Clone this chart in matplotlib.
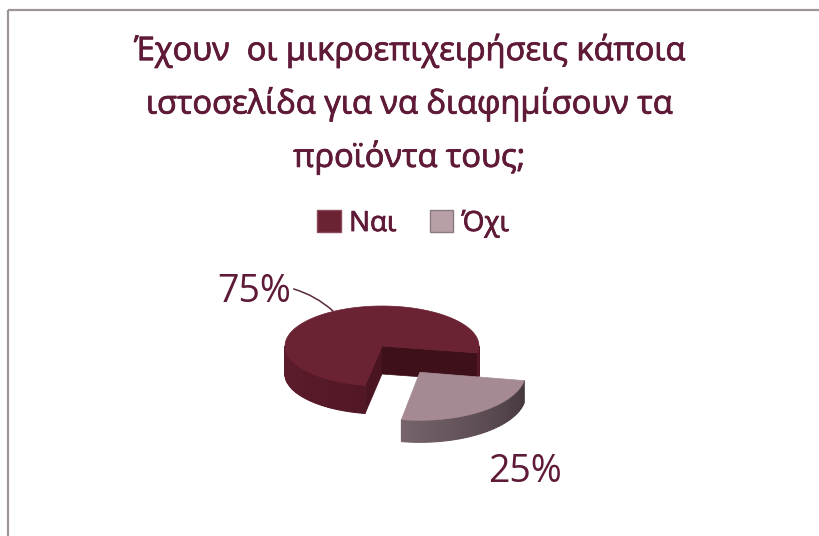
import numpy as np
import matplotlib.pyplot as plt
import matplotlib.patches as patches
import matplotlib.patheffects as pe
from matplotlib.colors import to_rgb

plt.rcParams['font.family'] = ['Open Sans', 'DejaVu Sans']

title = 'Έχουν  οι μικροεπιχειρήσεις κάποια\nιστοσελίδα για να διαφημίσουν τα\nπροϊόντα τους;'
labels = ['Ναι', 'Όχι']
values = [75, 25]

top_colors = ['#6b2233', '#a68a93']
rim_colors = [('#5e1c2c', '#521725'), ('#76636b', '#45373e')]
cut_color = '#3e1019'
text_color = '#5f1a38'
bold_fx = [pe.withStroke(linewidth=0.6, foreground=text_color)]


def arc(cx, cy, a, b, t0, t1, n=90):
    t = np.radians(np.linspace(t0, t1, n))
    return np.column_stack([cx + a * np.cos(t), cy - b * np.sin(t)])


def rim(ax, cx, cy, a, b, h, t0, t1, c0, c1, n=40):
    # side wall split into strips so the shading can run across it
    c0, c1 = np.array(to_rgb(c0)), np.array(to_rgb(c1))
    edges = np.linspace(t0, t1, n + 1)
    for i in range(n):
        top = arc(cx, cy, a, b, edges[i], edges[i + 1], 6)
        bot = top[::-1] + [0, h]
        f = i / max(n - 1, 1)
        c = c0 * (1 - f) + c1 * f
        ax.add_patch(patches.Polygon(np.vstack([top, bot]), closed=True,
                                     facecolor=c, edgecolor=c, linewidth=0.8))


def cut_face(ax, cx, cy, a, b, h, t, color):
    p = arc(cx, cy, a, b, t, t, 1)[0]
    pts = [(cx, cy), tuple(p), (p[0], p[1] + h), (cx, cy + h)]
    ax.add_patch(patches.Polygon(pts, closed=True, facecolor=color, edgecolor=color, linewidth=0.5))


def wedge_top(ax, cx, cy, a, b, t0, t1, color):
    pts = np.vstack([[cx, cy], arc(cx, cy, a, b, t0, t1), [cx, cy]])
    ax.add_patch(patches.Polygon(pts, closed=True, facecolor=color, edgecolor=color, linewidth=0.5))


fig = plt.figure(figsize=(8.19, 5.36), dpi=100)
ax = fig.add_axes([0, 0, 1, 1])
ax.set_xlim(0, 819)
ax.set_ylim(536, 0)
ax.axis('off')

# frame of the chart area
ax.add_patch(patches.Rectangle((7.5, 9.5), 830, 560, fill=False,
                               edgecolor='#9d959a', linewidth=1.6))

fig.text(0.5, 1 - 104 / 536, title, ha='center', va='center', fontsize=23.5,
         color=text_color, linespacing=1.68, path_effects=bold_fx)

# pie geometry (pixels)
cx, cy, a, b, h = 382, 346, 97, 40, 28
start = -10
spans = [360 * v / sum(values) for v in values]
t_yes = (start, start + spans[0])
t_no = (start + spans[0], start + spans[0] + spans[1])

# back slice
cut_face(ax, cx, cy, a, b, h, t_yes[1], '#4a1421')
cut_face(ax, cx, cy, a, b, h, t_yes[0], cut_color)
rim(ax, cx, cy, a, b, h, 180, t_yes[1], *rim_colors[0])
rim(ax, cx, cy, a, b, h, t_yes[0], 0, *rim_colors[0], n=4)
wedge_top(ax, cx, cy, a, b, t_yes[0], t_yes[1], top_colors[0])

# exploded front slice
mid = np.radians((t_no[0] + t_no[1]) / 2)
ex = 0.68
fx, fy = cx + ex * a * np.cos(mid), cy - ex * b * np.sin(mid) + 4
fa, fb, fh = 106, 48, 22
rim(ax, fx, fy, fa, fb, fh, t_no[0], t_no[1], *rim_colors[1])
wedge_top(ax, fx, fy, fa, fb, t_no[0], t_no[1], top_colors[1])

# data labels
ax.annotate(f'{values[0]}%', xy=(333, 311), xytext=(254, 292), fontsize=27,
            color=text_color, ha='center', va='center',
            arrowprops=dict(arrowstyle='-', color='#5a2a3a', lw=1.1,
                            shrinkA=0, shrinkB=0, relpos=(1.0, 0.6),
                            connectionstyle='arc3,rad=-0.12'))
ax.text(525, 472, f'{values[1]}%', fontsize=27, color=text_color,
        ha='center', va='center')

handles = [patches.Patch(facecolor=top_colors[0], edgecolor='#8a4a5a'),
           patches.Patch(facecolor='#b8a0a7', edgecolor='#8a7a80')]
leg = fig.legend(handles, labels, loc='center', bbox_to_anchor=(413 / 819, 1 - 224 / 536),
                 ncol=2, frameon=False, fontsize=20, handlelength=0.85, handleheight=0.85,
                 handletextpad=0.3, columnspacing=1.2, labelcolor=text_color)
for t in leg.get_texts():
    t.set_path_effects(bold_fx)

fig.savefig('out.png', dpi=100, facecolor='white')
